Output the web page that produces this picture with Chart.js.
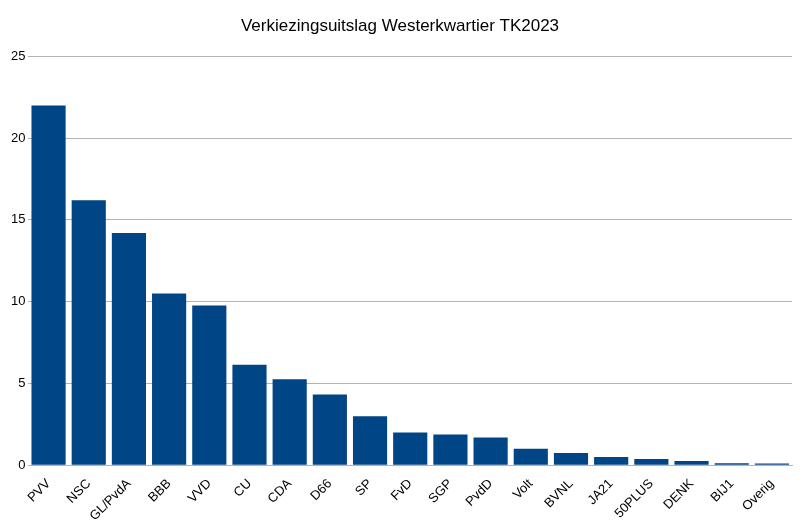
<!DOCTYPE html>
<html>
<head>
<meta charset="utf-8">
<script src="https://cdn.jsdelivr.net/npm/chart.js@4"></script>
<style>
  body { margin: 0; background: #fff; }
  #wrap { width: 808px; height: 531px; }
</style>
</head>
<body>
<div id="wrap"><canvas id="chart"></canvas></div>
<script>
const parties = ["PVV", "NSC", "GL/PvdA", "BBB", "VVD", "CU", "CDA", "D66", "SP", "FvD",
  "SGP", "PvdD", "Volt", "BVNL", "JA21", "50PLUS", "DENK", "BIJ1", "Overig"];
const percentages = [22.0, 16.2, 14.2, 10.5, 9.77, 6.14, 5.26, 4.32, 3.0, 2.0,
  1.88, 1.69, 1.0, 0.75, 0.5, 0.38, 0.25, 0.12, 0.1];

Chart.defaults.font.family = "'Liberation Sans', Arial, sans-serif";
Chart.defaults.color = "#000";

new Chart(document.getElementById("chart"), {
  type: "bar",
  data: {
    labels: parties,
    datasets: [{
      data: percentages,
      backgroundColor: "#004586",
      barPercentage: 0.85,
      categoryPercentage: 1.0
    }]
  },
  options: {
    responsive: true,
    maintainAspectRatio: false,
    animation: false,
    layout: { padding: { left: 8, right: 16, top: 6, bottom: 4 } },
    plugins: {
      legend: { display: false },
      tooltip: { enabled: false },
      title: {
        display: true,
        text: "Verkiezingsuitslag Westerkwartier TK2023",
        font: { size: 17, weight: "normal" },
        padding: { top: 10, bottom: 20 }
      }
    },
    scales: {
      y: {
        min: 0,
        max: 25,
        ticks: { stepSize: 5, font: { size: 13 } },
        grid: { color: "#b3b3b3", drawTicks: false },
        border: { display: false }
      },
      x: {
        ticks: { maxRotation: 45, minRotation: 45, font: { size: 13 }, autoSkip: false },
        grid: { display: false },
        border: { color: "#b3b3b3" }
      }
    }
  }
});
</script>
</body>
</html>
